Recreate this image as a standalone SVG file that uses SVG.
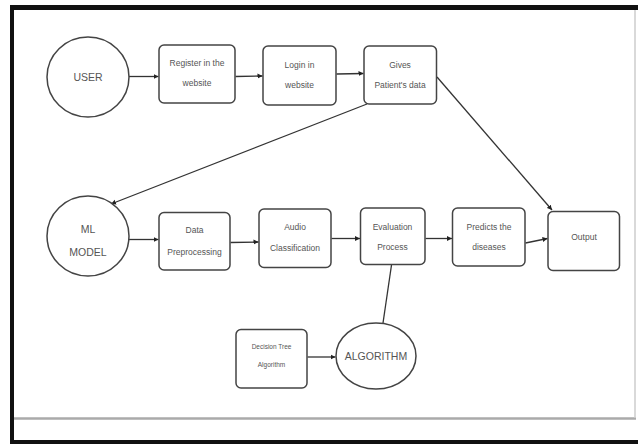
<svg xmlns="http://www.w3.org/2000/svg" width="638" height="444" viewBox="0 0 638 444">
<style>
.node{fill:#fff;stroke:#444;stroke-width:1.5}
.t{font-family:"Liberation Sans",Arial,sans-serif;fill:#555;text-anchor:middle;font-size:8.5px}
.tb{font-family:"Liberation Sans",Arial,sans-serif;fill:#555;text-anchor:middle;font-size:10.5px}
.ts{font-family:"Liberation Sans",Arial,sans-serif;fill:#555;text-anchor:middle;font-size:6.5px}
.c{stroke:#333;stroke-width:1.3;fill:none}
.a{marker-end:url(#ah)}
</style>
<defs>
<marker id="ah" markerWidth="6" markerHeight="6" refX="5" refY="3" orient="auto" markerUnits="userSpaceOnUse">
<path d="M0,0.5 L5,3 L0,5.5 Z" fill="#222"/>
</marker>
</defs>
<rect x="0" y="0" width="638" height="444" fill="#fff"/>
<g id="frame">
<rect x="10" y="5" width="628" height="5" fill="#111"/>
<rect x="10" y="5" width="4" height="439" fill="#111"/>
<rect x="10" y="440" width="628" height="4" fill="#111"/>
<line x1="14" y1="418.5" x2="636" y2="418.5" stroke="#aaa" stroke-width="2.5"/>
<line x1="635" y1="10" x2="635" y2="418" stroke="#ccc" stroke-width="1.5"/>
</g>
<g id="connectors">
<line class="c a" x1="129" y1="76.5" x2="158.5" y2="76.5"/>
<line class="c a" x1="235.5" y1="76.5" x2="262.5" y2="76"/>
<line class="c a" x1="336.5" y1="74" x2="363.5" y2="73.5"/>
<line class="c a" x1="367" y1="104" x2="111" y2="204"/>
<line class="c a" x1="437" y1="77" x2="552" y2="210"/>
<line class="c a" x1="129" y1="239.5" x2="158.5" y2="239.5"/>
<line class="c a" x1="230.5" y1="242.5" x2="258.5" y2="242"/>
<line class="c a" x1="331.5" y1="238.5" x2="360" y2="238.5"/>
<line class="c a" x1="425.5" y1="238.5" x2="452" y2="238.5"/>
<line class="c a" x1="525.5" y1="243" x2="547.5" y2="238.5"/>
<line class="c a" x1="307.5" y1="357" x2="335.5" y2="357"/>
<line class="c" x1="383" y1="323" x2="391.5" y2="265"/>
</g>
<g id="user">
<ellipse class="node" cx="88" cy="77" rx="41" ry="40"/>
<text class="tb" x="88" y="80.5">USER</text>
</g>
<g id="register">
<rect class="node" x="159" y="45" width="76" height="58" rx="5"/>
<text class="t" x="197" y="66">Register in the</text>
<text class="t" x="197" y="86">website</text>
</g>
<g id="login">
<rect class="node" x="263" y="46" width="73" height="59" rx="5"/>
<text class="t" x="299.5" y="68">Login in</text>
<text class="t" x="299.5" y="88">website</text>
</g>
<g id="gives">
<rect class="node" x="364" y="46" width="72.5" height="58" rx="5"/>
<text class="t" x="400" y="68">Gives</text>
<text class="t" x="400" y="88">Patient's data</text>
</g>
<g id="mlmodel">
<ellipse class="node" cx="88" cy="236" rx="41" ry="40"/>
<text class="tb" x="88" y="232.5">ML</text>
<text class="tb" x="88" y="255.5">MODEL</text>
</g>
<g id="preprocessing">
<rect class="node" x="159" y="212.5" width="71" height="57.5" rx="5"/>
<text class="t" x="194.5" y="233">Data</text>
<text class="t" x="194.5" y="255">Preprocessing</text>
</g>
<g id="audio">
<rect class="node" x="259" y="209" width="72" height="58.5" rx="5"/>
<text class="t" x="295" y="229.5">Audio</text>
<text class="t" x="295" y="250.5">Classification</text>
</g>
<g id="evaluation">
<rect class="node" x="360.5" y="208" width="64.5" height="56.5" rx="5"/>
<text class="t" x="392.5" y="229.5">Evaluation</text>
<text class="t" x="392.5" y="250">Process</text>
</g>
<g id="predicts">
<rect class="node" x="452.5" y="208" width="72.5" height="58" rx="5"/>
<text class="t" x="489" y="229.5">Predicts the</text>
<text class="t" x="489" y="249.5">diseases</text>
</g>
<g id="output">
<rect class="node" x="548" y="211.5" width="71.5" height="59" rx="5"/>
<text class="t" x="584" y="240">Output</text>
</g>
<g id="decisiontree">
<rect class="node" x="236" y="329.5" width="71" height="58.5" rx="5"/>
<text class="ts" x="271.5" y="349">Decision Tree</text>
<text class="ts" x="271.5" y="367">Algorithm</text>
</g>
<g id="algorithm">
<ellipse class="node" cx="376" cy="356" rx="40" ry="33"/>
<text class="tb" x="376" y="359.5">ALGORITHM</text>
</g>
</svg>
